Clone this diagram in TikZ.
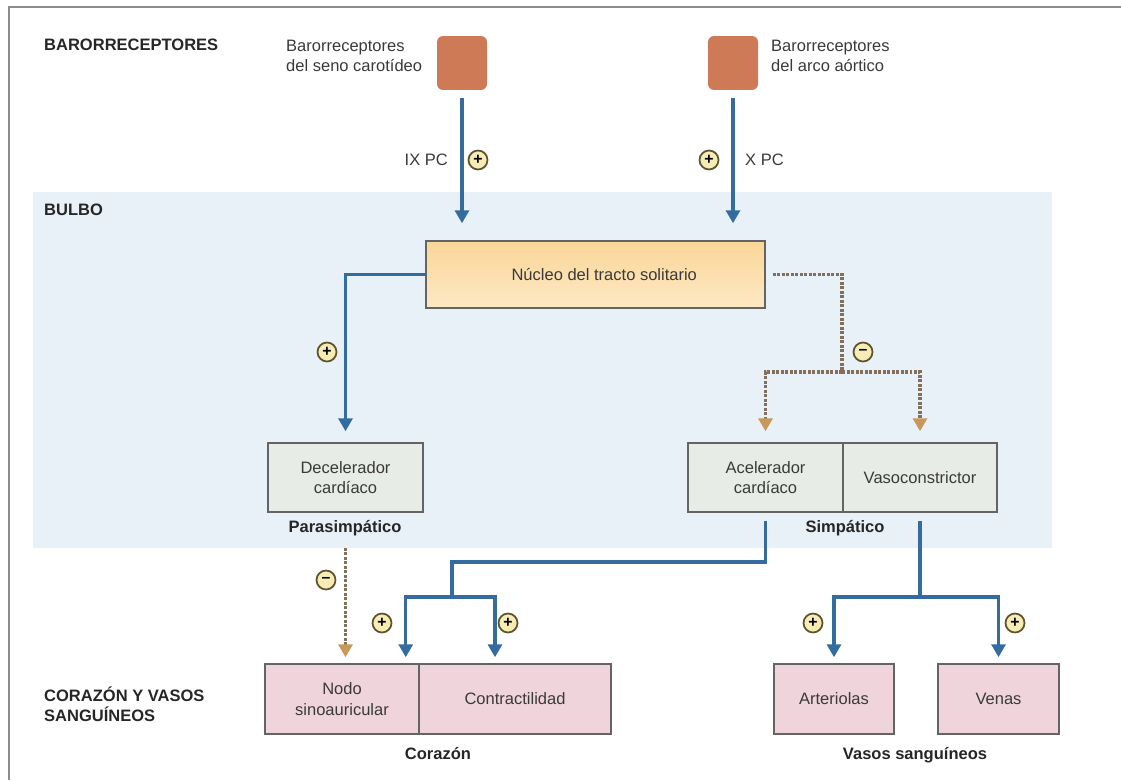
\documentclass[tikz,border=0pt]{standalone}
\usepackage{fontspec}
\setmainfont{Liberation Sans}
\usetikzlibrary{arrows.meta}
\definecolor{banda}{RGB}{232,240,248}
\definecolor{marcogris}{RGB}{140,140,140}
\definecolor{azul}{RGB}{52,108,160}
\definecolor{punteado}{RGB}{130,112,90}
\definecolor{punta}{RGB}{200,152,90}
\definecolor{barro}{RGB}{206,122,86}
\definecolor{nucleoA}{RGB}{250,214,152}
\definecolor{nucleoB}{RGB}{253,232,196}
\definecolor{grisfondo}{RGB}{232,236,230}
\definecolor{rosafondo}{RGB}{240,212,220}
\definecolor{borde}{RGB}{100,100,100}
\definecolor{signofondo}{RGB}{246,236,180}
\definecolor{signoborde}{RGB}{95,82,45}
\definecolor{texto}{RGB}{58,58,58}
\tikzset{
  receptor/.style={draw=none, fill=barro, rounded corners=0.12cm, minimum width=1cm, minimum height=1.08cm},
  cajagris/.style={draw=borde, line width=0.03cm, fill=grisfondo, minimum height=1.38cm, align=center},
  cajarosa/.style={draw=borde, line width=0.03cm, fill=rosafondo, minimum height=1.4cm, align=center},
  signo/.style={circle, draw=signoborde, fill=signofondo, line width=0.035cm, minimum size=0.38cm, inner sep=0pt, font=\fontsize{9}{9}\bfseries\selectfont, text=black},
  titulo/.style={anchor=west, align=left, font=\fontsize{9.4}{11.5}\bfseries\selectfont, text=black!85},
  rotulo/.style={font=\fontsize{9.4}{11.5}\bfseries\selectfont, text=black!85},
  flechaazul/.style={draw=azul, line width=0.07cm, -{Triangle[width=0.28cm,length=0.26cm]}},
  lineaazul/.style={draw=azul, line width=0.07cm},
  flechapunt/.style={draw=punteado, line width=0.07cm, dash pattern=on 0.06cm off 0.03cm, -{Triangle[width=0.28cm,length=0.26cm,color=punta,fill=punta]}},
  lineapunt/.style={draw=punteado, line width=0.07cm, dash pattern=on 0.06cm off 0.03cm}
}
\begin{document}
\begin{tikzpicture}[x=0.02cm, y=-0.02cm, font=\fontsize{9.4}{11.5}\selectfont, text=texto]
    \useasboundingbox (0,0) rectangle (1121,780);
    % fondo del bulbo y marco
    \fill[banda] (33,192) rectangle (1052,548);
    \draw[marcogris, line width=0.05cm] (9,780) -- (9,7) -- (1121,7);

    % niveles
    \node[titulo] (tBaro) at (38,45) {BARORRECEPTORES};
    \node[titulo] (tBulbo) at (38,210) {BULBO};
    \node[titulo] (tCorazon) at (38,704) {CORAZÓN Y VASOS\\SANGUÍNEOS};

    % barorreceptores
    \node[receptor] (carot) at (462,63) {};
    \node[receptor] (aort) at (733,63) {};
    \node[anchor=west, align=left] (lCarot) at (280,56) {Barorreceptores\\del seno carotídeo};
    \node[anchor=west, align=left] (lAort) at (765,56) {Barorreceptores\\del arco aórtico};
    \node[anchor=east] (ixpc) at (454,160) {IX PC};
    \node[anchor=west] (xpc) at (739,160) {X PC};

    % bulbo
    \node[draw=borde, line width=0.03cm, top color=nucleoA, bottom color=nucleoB,
          minimum width=6.78cm, minimum height=1.34cm] (nucleo) at (595.5,274.5) {\hspace*{0.35cm}Núcleo del tracto solitario};
    \node[cajagris, minimum width=3.1cm] (decel) at (345.5,477.5) {Decelerador\\cardíaco};
    \node[cajagris, minimum width=3.1cm] (acel) at (765.5,477.5) {Acelerador\\cardíaco};
    \node[cajagris, minimum width=3.08cm] (vaso) at (920,477.5) {Vasoconstrictor};
    \node[rotulo] (lPara) at (345,528) {Parasimpático};
    \node[rotulo] (lSimp) at (845,528) {Simpático};

    % corazon y vasos
    \node[cajarosa, minimum width=3.08cm] (nodo) at (342,699) {Nodo\\sinoauricular};
    \node[cajarosa, minimum width=3.84cm] (contr) at (515,699) {Contractilidad};
    \node[cajarosa, minimum width=2.4cm] (arter) at (834,699) {Arteriolas};
    \node[cajarosa, minimum width=2.42cm] (venas) at (998.5,699) {Venas};
    \node[rotulo] (lCor) at (438,754) {Corazón};
    \node[rotulo] (lVasos) at (915,755) {Vasos sanguíneos};

    % vias aferentes
    \draw[flechaazul, shorten <=0.16cm, shorten >=0.34cm] (carot.south) -- (carot.south |- nucleo.north);
    \draw[flechaazul, shorten <=0.16cm, shorten >=0.34cm] (aort.south) -- (aort.south |- nucleo.north);

    % vias eferentes
    \coordinate (rama) at (842,372);
    \coordinate (codo) at (452,562);
    \coordinate (uniC) at (452,597);
    \coordinate (uniV) at (920,597);
    \draw[flechaazul, shorten >=0.22cm] (nucleo.west) -| (decel.north);
    \draw[lineapunt, shorten <=0.14cm] (nucleo.east) -| (rama);
    \draw[flechapunt, shorten >=0.22cm] (rama) -| (acel.north);
    \draw[flechapunt, shorten >=0.22cm] (rama) -| (vaso.north);
    \draw[flechapunt, shorten <=0.7cm, shorten >=0.12cm] (decel.south) -- (decel.south |- nodo.north);
    \draw[lineaazul, shorten <=0.16cm] (acel.south) |- (codo) -- (uniC);
    \draw[flechaazul, {Triangle[width=0.28cm,length=0.26cm]}-{Triangle[width=0.28cm,length=0.26cm]}, shorten <=0.12cm, shorten >=0.12cm]
        ([xshift=-0.28cm]nodo.north east) |- (uniC) -| ([xshift=-0.4cm]contr.north);
    \draw[lineaazul, shorten <=0.16cm] (vaso.south) -- (uniV);
    \draw[flechaazul, {Triangle[width=0.28cm,length=0.26cm]}-{Triangle[width=0.28cm,length=0.26cm]}, shorten <=0.12cm, shorten >=0.12cm]
        (arter.north) |- (uniV) -| (venas.north);

    % signos
    \foreach \x/\y [count=\i] in {478/160, 709/160, 327/352, 382/623, 508/623, 813/623, 1015/623}{
        \node[signo] (mas\i) at (\x,\y) {+};
    }
    \foreach \x/\y [count=\i] in {863/352, 326/580}{
        \node[signo] (menos\i) at (\x,\y) {–};
    }
\end{tikzpicture}
\end{document}
